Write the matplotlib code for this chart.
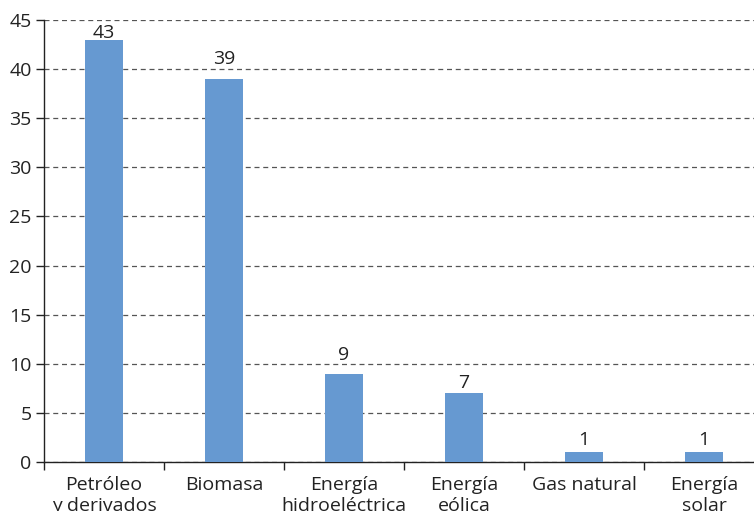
import matplotlib.pyplot as plt
import numpy as np

categories = ["Petróleo\ny derivados", "Biomasa", "Energía\nhidroeléctrica",
              "Energía\neólica", "Gas natural", "Energía\nsolar"]
values = [43, 39, 9, 7, 1, 1]
y_ticks = [0, 5, 10, 15, 20, 25, 30, 35, 40, 45]

# gap between bar top and its label, in data units (as laid out in the original)
label_gap = [0.2, 1.5, 1.4, 0.5, 0.7, 0.7]

plt.rcParams['font.family'] = ['Open Sans', 'DejaVu Sans']
FS = 14
TXT = "#222222"

W, H = 754, 511
fig = plt.figure(figsize=(W / 100, H / 100), dpi=100)
ax = fig.add_axes([44 / W, 1 - 462 / H, 720 / W, 442 / H])

x = np.arange(len(categories))
ax.bar(x, values, width=0.32, color="#6699d1", zorder=3)
for xi, v, g in zip(x, values, label_gap):
    ax.text(xi, v + g, str(v), ha="center", va="baseline", fontsize=FS,
            color=TXT, zorder=4)

ax.set_xlim(-0.5, len(categories) - 0.5)
ax.set_ylim(0, 45)
ax.set_yticks(y_ticks)
ax.yaxis.grid(True, linestyle=(0, (4, 3)), color="#555555", linewidth=0.9)
ax.set_axisbelow(True)

# category ticks sit on boundaries, labels centred under bars
ax.set_xticks(np.arange(len(categories) + 1) - 0.5)
ax.set_xticklabels([])
ax.set_xticks(x, minor=True)
ax.set_xticklabels(categories, minor=True, fontsize=FS, color=TXT,
                   linespacing=1.2)
ax.tick_params(axis="x", which="minor", length=0, pad=10)
ax.tick_params(axis="x", which="major", length=6, width=1, direction="out",
               color=TXT)
ax.tick_params(axis="y", length=6, width=1, direction="out", color=TXT,
               labelsize=FS, labelcolor=TXT, pad=3)

for s in ["top", "right"]:
    ax.spines[s].set_visible(False)
for s in ["left", "bottom"]:
    ax.spines[s].set_color(TXT)
    ax.spines[s].set_linewidth(1)

fig.savefig("out.png", dpi=100)
